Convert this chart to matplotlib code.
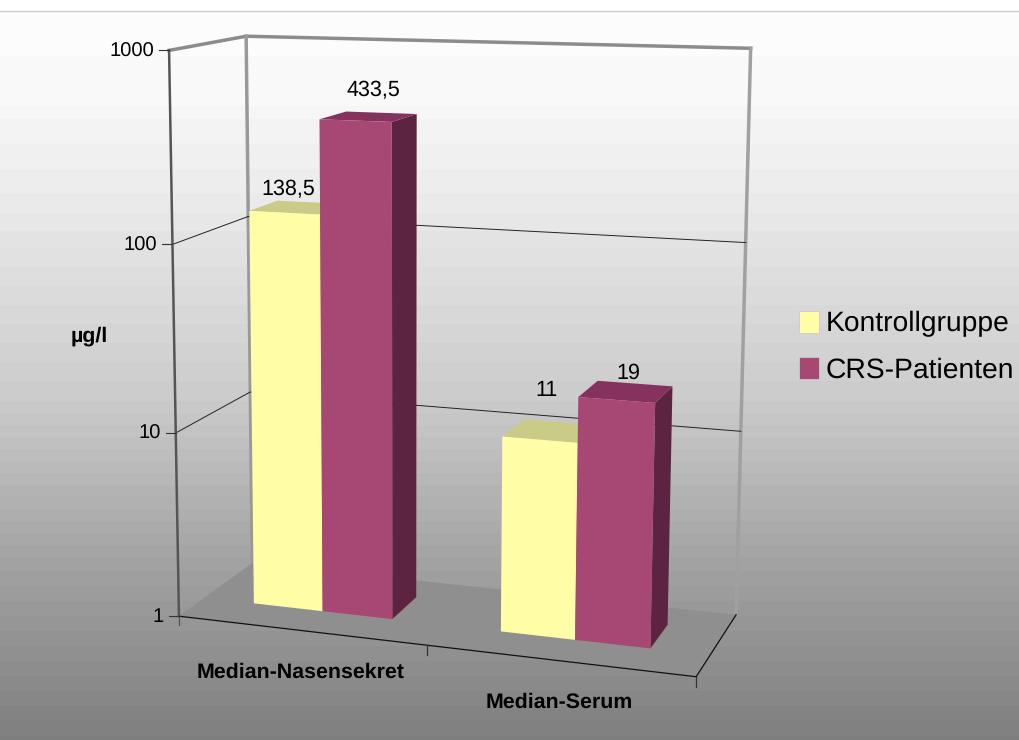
import matplotlib
matplotlib.use('Agg')
import matplotlib.pyplot as plt
from matplotlib.patches import Polygon, Rectangle
import numpy as np

plt.rcParams['font.family'] = ['Liberation Sans', 'DejaVu Sans']
plt.rcParams['text.hinting'] = 'none'

categories = ['Median-Nasensekret', 'Median-Serum']
series_names = ['Kontrollgruppe', 'CRS-Patienten']
kontroll = [138.5, 11]
crs = [433.5, 19]
value_labels = [['138,5', '11'], ['433,5', '19']]
y_ticks = [1, 10, 100, 1000]
y_label = 'µg/l'

W, H = 1019, 740

# world coords (x 0-1 along the front, log10 value, depth 0-1) -> pixels seen in the picture
world = [(0, 0, 0), (0, 1, 0), (0, 2, 0), (0, 3, 0), (0, 3, 1), (1, 3, 1), (1, 2, 1), (1, 1, 1), (1, 0, 1), (1, 0, 0),
         (0, 0, 1), (0, 2, 1), (0, 1, 1),
         (.105, 0, .33), (.39, 0, .33), (.39, 0, .72), (.605, 0, .33), (.89, 0, .33), (.89, 0, .72),
         (.39, np.log10(433.5), .33), (.105, np.log10(138.5), .33), (.89, np.log10(19), .33), (.605, np.log10(11), .33)]
pixels = [(181, 617), (176, 432), (172, 244), (168, 50), (248, 36), (750, 48), (746, 243), (741, 431), (737, 614), (695, 677),
          (250, 562), (248, 218), (250, 392),
          (255, 604), (393, 620), (419, 598), (501, 633), (651, 650), (669, 626),
          (392, 122), (249, 212), (655, 404), (502, 438)]
weights = [3]*13 + [1]*10

A, b = [], []
for (x, y, z), (u, v), w in zip(world, pixels, weights):
    A.append([w*c for c in [x, y, z, 1, 0, 0, 0, 0, -u*x, -u*y, -u*z]])
    A.append([w*c for c in [0, 0, 0, 0, x, y, z, 1, -v*x, -v*y, -v*z]])
    b += [w*u, w*v]
sol = np.linalg.lstsq(np.array(A, float), np.array(b, float), rcond=None)[0]
P = np.append(sol, 1).reshape(3, 4)


def proj(x, val, z):
    p = P @ np.array([x, np.log10(val), z, 1])
    return p[0]/p[2], p[1]/p[2]


fig = plt.figure(figsize=(W/100, H/100), dpi=100)
ax = fig.add_axes([0, 0, 1, 1])
ax.set_xlim(0, W)
ax.set_ylim(H, 0)
ax.axis('off')

# banded background
rows = np.arange(11, H)
grey = np.interp(rows, [11, 100, 110, 160, 200, 260, 400, 560, 660, 740], [253, 251, 247, 241, 236, 226, 204, 164, 144, 128])
grey = np.floor(grey/3)*3
ax.imshow(grey[:, None]/255, extent=(0, W, H, 11), cmap='gray', vmin=0, vmax=1, aspect='auto', zorder=0)
ax.set_xlim(0, W)
ax.set_ylim(H, 0)
ax.plot([0, W], [10.5, 10.5], color='#cccccc', lw=1, zorder=1)

# walls
wall_top = [proj(0, 1000, 0), proj(0, 1000, 1), proj(1, 1000, 1)]
ax.plot(*zip(*wall_top), color='#8c8c8c', lw=2.5, zorder=1, solid_joinstyle='miter')
ax.plot(*zip(proj(0, 1000, 1), proj(0, 1, 1)), color='#999999', lw=2.5, zorder=1)
ax.plot(*zip(proj(1, 1000, 1), proj(1, 1, 1)), color='#a0a0a0', lw=2.5, zorder=1)
for t in y_ticks[1:-1]:
    ax.plot(*zip(proj(0, t, 0), proj(0, t, 1), proj(1, t, 1)), color='#222222', lw=0.7, zorder=1)

# floor
floor = [proj(0, 1, 0), proj(0, 1, 1), proj(1, 1, 1), proj(1, 1, 0)]
ax.add_patch(Polygon(floor, closed=True, fc='#8f8f8f', ec='none', zorder=2))
ax.plot(*zip(proj(0, 1, 0), proj(1, 1, 0), proj(1, 1, 1)), color='#111111', lw=0.9, zorder=3)

# value axis with ticks
ax.plot(*zip(proj(0, 1000, 0), proj(0, 1, 0)), color='#555555', lw=1.8, zorder=3)
x0, y0 = proj(0, 1, 0)
ax.plot([x0, x0], [y0, y0+9], color='#555555', lw=0.9, zorder=3)
for t in y_ticks:
    tx, ty = proj(0, t, 0)
    ax.plot([tx-10, tx], [ty, ty], color='#333333', lw=0.8, zorder=3)
    ax.text(tx-15, ty+1, str(t), ha='right', va='center', fontsize=14.5, color='black', zorder=5)
ax.text(89, 336, y_label, ha='center', va='center', fontsize=15.4, fontweight='bold', color='black', zorder=5)

# category ticks and labels
for x_t in [0.5, 1.0]:
    tx, ty = proj(x_t, 1, 0)
    ax.plot([tx, tx], [ty, ty+10], color='#333333', lw=0.9, zorder=3)
for name, cx, cy in zip(categories, [301, 559], [672, 702]):
    ax.text(cx, cy, name, ha='center', va='center', fontsize=15.4, fontweight='bold', color='black', zorder=5)


# bars
def bar(x1, x2, val, front, top, side, zo):
    z1, z2 = .33, .72
    ax.add_patch(Polygon([proj(x2, 1, z1), proj(x2, 1, z2), proj(x2, val, z2), proj(x2, val, z1)], fc=side, ec='none', zorder=zo))
    ax.add_patch(Polygon([proj(x1, val, z1), proj(x1, val, z2), proj(x2, val, z2), proj(x2, val, z1)], fc=top, ec='none', zorder=zo))
    ax.add_patch(Polygon([proj(x1, 1, z1), proj(x2, 1, z1), proj(x2, val, z1), proj(x1, val, z1)], fc=front, ec='none', zorder=zo))


label_shift = [[(-11, -18), (-5, -41)], [(5, -26), (3, -19)]]
for g, centre in enumerate([.25, .75]):
    bar(centre-.145, centre-.002, kontroll[g], '#fffda6', '#cbcb88', '#8c8a5a', 4)
    bar(centre-.002, centre+.14, crs[g], '#a64774', '#86325e', '#5c2440', 4)
    for s, (vals, x_mid) in enumerate([(kontroll, centre-.07), (crs, centre+.07)]):
        lx, ly = proj(x_mid, vals[g], .51)
        dx, dy = label_shift[s][g]
        ax.text(lx+dx, ly+dy, value_labels[s][g], ha='center', va='center', fontsize=15.5, color='black', zorder=5)

# legend
for name, col, ly in zip(series_names, ['#fffda6', '#a64774'], [322, 368]):
    ax.add_patch(Rectangle((799, ly-11), 20, 22, fc=col, ec='#cfc8c8', lw=0.6, zorder=5))
    ax.text(826, ly+2, name, ha='left', va='center', fontsize=20.3, color='black', zorder=5)

fig.savefig('out.png', dpi=100)
